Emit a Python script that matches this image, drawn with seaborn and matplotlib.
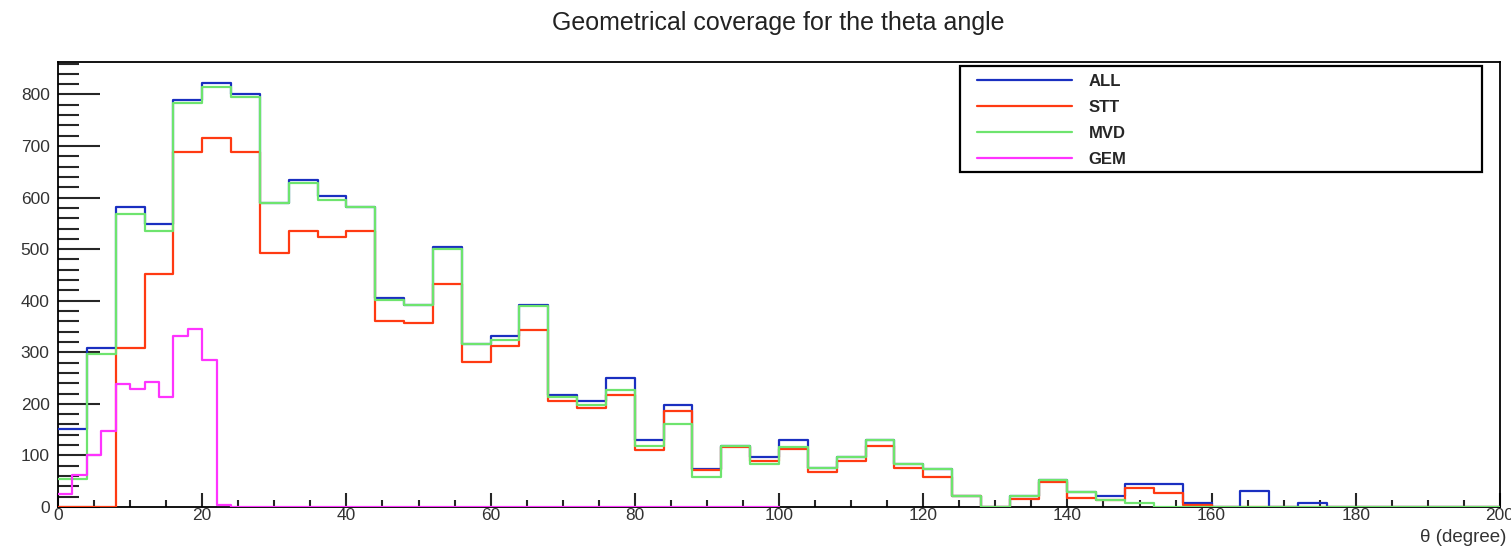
import numpy as np
import pandas as pd
import seaborn as sns
import matplotlib.pyplot as plt
from matplotlib.patches import Rectangle
from matplotlib.ticker import MultipleLocator

# theta bins: 4 degree bins 0-200 for ALL/STT/MVD, 2 degree bins 0-100 for GEM
all_counts = [152, 309, 581, 549, 790, 822, 800, 590, 635, 603,
              581, 406, 392, 504, 317, 331, 392, 217, 205, 250,
              129, 197, 74, 119, 97, 129, 76, 97, 129, 84,
              74, 21, 0, 21, 53, 29, 21, 45, 45, 8,
              0, 31, 0, 8, 0, 0, 0, 0, 0, 0]
stt_counts = [0, 0, 309, 451, 689, 715, 689, 493, 536, 523,
              536, 361, 357, 432, 281, 312, 343, 205, 192, 218,
              111, 187, 71, 116, 90, 112, 68, 90, 119, 76,
              58, 21, 0, 16, 48, 17, 13, 36, 27, 4,
              0, 0, 0, 0, 0, 0, 0, 0, 0, 0]
mvd_counts = [55, 296, 568, 536, 783, 815, 796, 590, 629, 596,
              581, 401, 392, 500, 317, 324, 389, 213, 197, 227,
              119, 161, 58, 119, 84, 116, 76, 97, 129, 84,
              74, 21, 0, 21, 53, 29, 13, 8, 0, 0,
              0, 0, 0, 0, 0, 0, 0, 0, 0, 0]
gem_counts = [26, 62, 101, 148, 238, 228, 242, 214, 331, 346,
              286, 3] + [0] * 38

sns.set_style("ticks")
plt.rcParams['font.family'] = ['Liberation Sans', 'DejaVu Sans']

fig = plt.figure(figsize=(15.11, 5.5), dpi=100)
ax = fig.add_axes([58 / 1511, 1 - 507 / 550, 1442 / 1511, 445 / 550])

series = [("ALL", all_counts, 4, 200, "#1a2fc0"),
          ("STT", stt_counts, 4, 200, "#ff3a12"),
          ("MVD", mvd_counts, 4, 200, "#6ee46e"),
          ("GEM", gem_counts, 2, 100, "#ff33ff")]

for name, counts, bw, hi, col in series:
    df = pd.DataFrame({"theta": np.arange(len(counts)) * bw + bw / 2,
                       "n": counts})
    sns.histplot(data=df, x="theta", weights="n", binwidth=bw, binrange=(0, hi),
                 element="step", fill=False, color=col, linewidth=1.6,
                 label=name, ax=ax, zorder=3)

ax.set_xlim(0, 200)
ax.set_ylim(0, 863)
ax.set_xlabel("")
ax.set_ylabel("")

ax.xaxis.set_major_locator(MultipleLocator(20))
ax.xaxis.set_minor_locator(MultipleLocator(5))
ax.yaxis.set_major_locator(MultipleLocator(100))
ax.yaxis.set_minor_locator(MultipleLocator(20))
ax.tick_params(axis="y", which="major", direction="in", length=30, width=1.5,
               labelsize=12.5, pad=6, labelcolor="#333333")
ax.tick_params(axis="y", which="minor", direction="in", length=15, width=1.5)
ax.tick_params(axis="x", which="major", direction="in", length=10, width=1.5,
               labelsize=12.5, pad=1, labelcolor="#333333")
ax.tick_params(axis="x", which="minor", direction="in", length=5, width=1.5)
for s in ax.spines.values():
    s.set_visible(True)
    s.set_color("black")
    s.set_linewidth(1.3)

# legend box drawn separately, ROOT style
ax.add_patch(Rectangle((0.6255, 0.753), 0.362, 0.238, transform=ax.transAxes,
                       fill=False, ec="black", lw=1.6, zorder=5))
leg = ax.legend(loc="upper left", bbox_to_anchor=((977 - 58) / 1442, 0.974),
                borderaxespad=0, frameon=False, handlelength=5.7,
                handletextpad=1.0, labelspacing=0.66, borderpad=0,
                prop={"weight": "bold", "size": 12})

fig.text(778 / 1511, 1 - 23 / 550, "Geometrical coverage for the theta angle",
         ha="center", va="center", fontsize=18, color="#222222")
fig.text(1506 / 1511, 1 - 537 / 550, "θ (degree)", ha="right", va="center",
         fontsize=13.5, color="#333333")

fig.savefig("out.png", dpi=100)
